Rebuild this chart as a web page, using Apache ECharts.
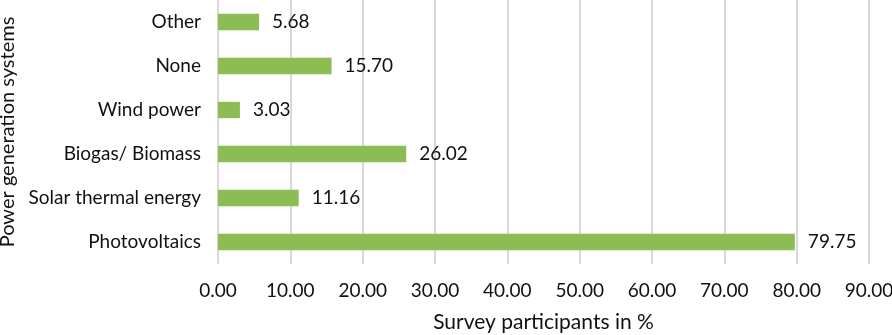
<!DOCTYPE html>
<html>
<head>
<meta charset="utf-8">
<script src="https://cdn.jsdelivr.net/npm/echarts@6/dist/echarts.min.js"></script>
<style>
  html, body { margin: 0; padding: 0; background: #fff; }
  #main { width: 892px; height: 335px; }
</style>
</head>
<body>
<div id="main"></div>
<script>
// categories bottom to top
var systems = ['Photovoltaics', 'Solar thermal energy', 'Biogas/ Biomass', 'Wind power', 'None', 'Other'];
var shares = [79.75, 11.16, 26.02, 3.03, 15.70, 5.68];

var myChart = echarts.init(document.getElementById('main'));

var option = {
    textStyle: { fontFamily: 'Lato' },
    grid: {
        left: 218,
        right: 23,
        top: 0,
        bottom: 71,
        outerBoundsMode: 'none'
    },
    xAxis: {
        type: 'value',
        min: 0,
        max: 90,
        interval: 10,
        name: 'Survey participants in %',
        nameLocation: 'middle',
        nameGap: 48,
        nameTextStyle: { color: '#111', fontSize: 21, fontFamily: 'Lato' },
        axisLine: { show: false },
        axisTick: { show: false },
        axisLabel: {
            color: '#111',
            fontSize: 19,
            margin: 17,
            formatter: function (v) { return v.toFixed(2); }
        },
        splitLine: { show: true, lineStyle: { color: '#d9d9d9', width: 2 } }
    },
    yAxis: {
        type: 'category',
        data: systems,
        name: 'Power generation systems',
        nameLocation: 'middle',
        nameGap: 196,
        nameTextStyle: { color: '#111', fontSize: 20, fontFamily: 'Lato' },
        axisLine: { show: false },
        axisTick: { show: false },
        axisLabel: { color: '#111', fontSize: 19, margin: 17 }
    },
    series: [
        {
            type: 'bar',
            data: shares,
            barWidth: '37%',
            itemStyle: { color: '#8cbd52' },
            label: {
                show: true,
                position: 'right',
                distance: 13,
                color: '#111',
                fontSize: 19,
                formatter: function (p) { return p.value.toFixed(2); }
            },
            silent: true
        }
    ]
};

myChart.setOption(option);
</script>
</body>
</html>
